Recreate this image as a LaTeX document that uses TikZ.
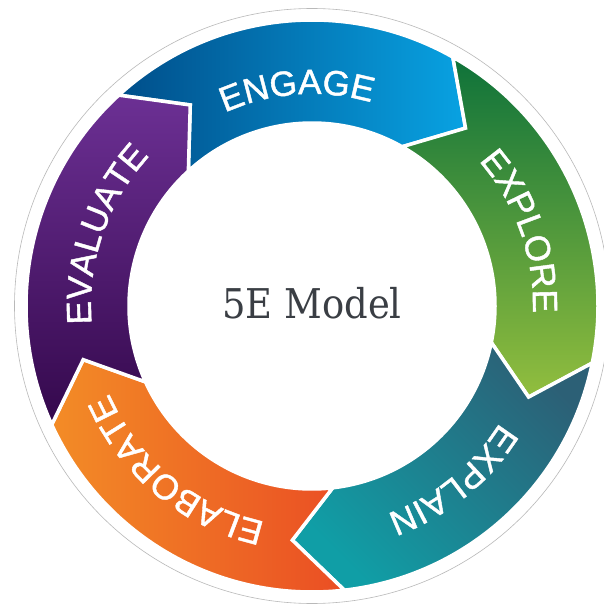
\documentclass[tikz,border=0pt]{standalone}
\usepackage{fontspec}
\usetikzlibrary{decorations.text}
\newfontfamily\lblfont[FakeBold=1.2]{Liberation Sans}
\newfontfamily\ctrfont[FakeStretch=0.9]{DejaVu Serif}
\definecolor{engA}{RGB}{0,78,138}
\definecolor{engB}{RGB}{14,136,202}
\definecolor{engC}{RGB}{8,162,226}
\definecolor{expA}{RGB}{14,114,58}
\definecolor{expB}{RGB}{96,164,60}
\definecolor{expC}{RGB}{146,190,62}
\definecolor{xplA}{RGB}{16,158,166}
\definecolor{xplB}{RGB}{22,138,152}
\definecolor{xplC}{RGB}{44,96,118}
\definecolor{elaA}{RGB}{243,140,38}
\definecolor{elaB}{RGB}{241,122,37}
\definecolor{elaC}{RGB}{234,78,36}
\definecolor{evaA}{RGB}{108,48,148}
\definecolor{evaB}{RGB}{90,36,130}
\definecolor{evaC}{RGB}{52,8,76}
\definecolor{ctrtext}{RGB}{58,62,68}
\newcommand\mysegment[2]{%
  \pgfmathsetmacro\aE{#1-72}%
  \pgfmathsetmacro\aT{#1-72-11.3}%
  \pgfmathsetmacro\aN{#1-11.3}%
  \path[seg,#2] (#1:286) arc[start angle=#1, end angle=\aE, radius=286]
    -- (\aT:235) -- (\aE:183) arc[start angle=\aE, end angle=#1, radius=183]
    -- (\aN:235) -- cycle;}
\newcommand\arclabel[3]{%
  \pgfmathsetmacro\aS{#1+55}%
  \pgfmathsetmacro\aF{#1-55}%
  \path[decorate, decoration={text along path, text color=white,
      text={|\lblfont\fontsize{35}{35}\selectfont|#3}, text align=center}]
    (\aS:#2) arc[start angle=\aS, end angle=\aF, radius=#2];}
\begin{document}
\begin{tikzpicture}[x=1pt,y=1pt,
  seg/.style={draw=white, line width=3.5pt, line join=miter}]
\useasboundingbox (-312,-299) rectangle (291,306);
\fill[white] (-312,-299) rectangle (291,306);
\filldraw[fill=white, draw=gray!55, line width=0.6pt] (0,0) circle[radius=297.5];
\mysegment{132.5}{left color=engA, middle color=engB, right color=engC}
\mysegment{60.5}{top color=expA, middle color=expB, bottom color=expC}
\mysegment{-11.5}{top color=xplC, middle color=xplB, bottom color=xplA, shading angle=-45}
\mysegment{-83.5}{left color=elaA, middle color=elaB, right color=elaC}
\mysegment{-155.5}{top color=evaA, middle color=evaB, bottom color=evaC}
\arclabel{94}{212}{ENGAGE}
\arclabel{19.6}{221}{EXPLORE}
\arclabel{-51}{221}{EXPLAIN}
\arclabel{-129.5}{221}{ELABORATE}
\arclabel{161}{221}{EVALUATE}
\node (center) [text=ctrtext, font=\ctrfont\fontsize{41}{41}\selectfont] at (0,3) {5E Model};
\end{tikzpicture}
\end{document}
